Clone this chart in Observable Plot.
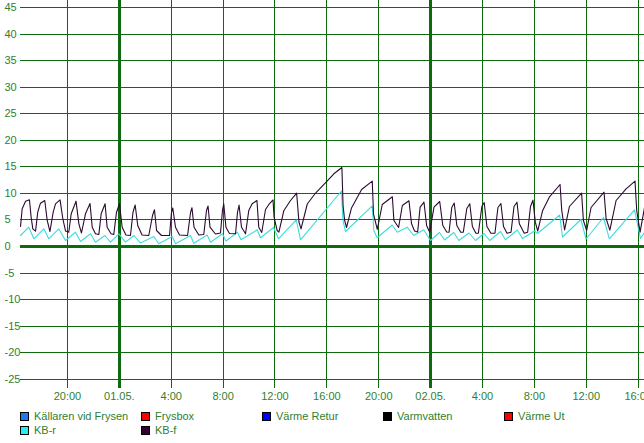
<!DOCTYPE html>
<html><head><meta charset="utf-8">
<script src="https://cdn.jsdelivr.net/npm/d3@7"></script>
<script src="https://cdn.jsdelivr.net/npm/@observablehq/plot@0.6"></script>
<style>
html,body{margin:0;background:#fff;font-family:"Liberation Sans",Arial,sans-serif;overflow:hidden;}
#chart{width:644px;overflow:hidden;}
#chart svg{display:block;}
#legend{position:relative;width:644px;height:38px;font-size:11px;color:#2f7f2f;}
.item{position:absolute;display:flex;align-items:center;height:14px;white-space:nowrap;}
.sw{width:7px;height:7px;border:1px solid #000;margin-right:5px;}
</style></head><body><div id="chart"></div><div id="legend"></div>
<script>
// hours since 30.04. 00:00
const kbfHours = [16.38,16.51,16.77,17.07,17.20,17.33,17.54,17.71,17.92,18.25,
18.44,18.65,18.90,19.08,19.43,19.64,19.85,20.10,20.29,20.66,
20.88,21.08,21.39,21.74,21.91,22.16,22.42,22.60,22.90,23.06,
23.36,23.57,23.78,24.01,24.22,24.51,24.86,25.05,25.22,25.42,
25.75,26.27,26.56,26.71,26.87,27.25,27.87,28.02,28.12,28.33,
28.64,29.26,29.49,29.60,29.76,30.13,30.51,30.72,30.84,30.99,
31.41,31.80,31.95,32.05,32.22,32.49,32.96,33.11,33.23,33.42,
33.73,33.98,34.24,34.61,34.75,34.98,35.27,35.53,35.85,35.93,
36.17,36.30,36.69,37.20,37.67,37.85,38.01,38.49,39.13,39.98,
40.54,41.16,41.25,41.37,41.52,41.90,42.68,43.50,43.60,43.89,
44.27,45.05,45.17,45.53,45.82,46.33,46.53,46.76,47.00,47.19,
47.49,47.69,47.93,48.26,48.70,48.94,49.24,49.42,49.63,49.82,
50.02,50.32,50.52,50.79,51.02,51.22,51.49,51.68,51.95,52.13,
52.34,52.65,52.96,53.19,53.42,53.62,53.89,54.20,54.43,54.66,
54.84,55.22,55.48,55.70,55.89,56.07,56.26,56.64,57.15,57.98,
58.11,58.33,58.70,59.64,59.78,60.03,60.37,61.37,61.53,61.82,
62.30,63.07,63.76,63.89,64.15,64.49];
const kbfValues = [3.77,7.10,8.53,8.79,5.52,3.33,2.88,6.46,8.15,8.66,
4.90,2.82,6.46,8.04,8.79,5.27,2.92,2.69,6.16,8.53,
4.27,2.54,6.16,8.10,3.63,2.39,2.26,6.16,8.04,3.63,
2.39,2.26,6.40,8.04,3.63,2.17,2.07,6.40,7.81,3.95,
2.17,2.07,5.84,6.91,3.01,2.07,2.07,6.40,7.25,3.63,
2.17,2.07,6.40,7.29,3.63,2.17,2.26,6.78,7.63,3.63,
2.35,2.54,6.78,8.04,3.63,2.45,2.39,6.40,7.81,3.63,
2.39,6.78,8.04,8.66,3.63,2.64,6.97,7.91,8.76,5.52,
3.01,2.69,6.78,8.66,10.04,4.61,3.30,8.00,10.07,12.20,
13.69,14.88,7.72,4.90,3.58,7.25,10.73,12.30,6.03,3.24,
7.91,9.36,4.90,3.58,7.72,8.61,4.27,2.92,2.73,7.40,
8.34,3.95,2.69,7.40,8.47,3.95,2.73,2.69,7.34,8.19,
3.95,2.69,2.69,7.16,8.04,3.77,2.50,2.50,7.53,8.29,
3.77,2.50,2.50,7.34,8.10,3.77,2.50,2.69,7.53,8.34,
4.27,2.50,2.69,7.53,8.72,4.58,2.92,6.78,9.28,11.67,
6.78,3.11,7.53,10.04,4.90,3.01,7.34,10.22,5.27,3.07,
8.66,10.86,12.30,6.78,2.69,7.34];
const kbrHours = [16.38,17.02,17.41,18.18,18.56,19.33,19.85,20.62,21.01,21.78,
22.16,22.88,23.32,23.96,24.48,25.12,25.63,26.66,27.04,28.08,
28.33,29.49,29.74,30.77,31.03,31.95,32.22,33.11,33.38,34.63,
34.88,35.89,36.27,37.64,37.97,41.13,41.24,41.44,43.50,43.62,
43.88,45.04,45.42,46.19,46.70,47.47,47.99,48.68,49.07,49.79,
50.17,50.96,51.46,52.10,52.56,53.39,53.77,54.68,55.08,56.01,
56.24,57.95,58.17,59.59,59.98,61.33,61.78,63.72,64.18,64.49];
const kbrValues = [2.07,3.63,1.45,3.33,1.45,3.33,1.13,2.69,0.94,2.39,
0.81,2.07,0.81,2.39,0.81,2.07,0.66,1.88,0.51,1.88,
0.51,2.07,0.62,2.17,0.81,2.39,1.04,2.69,1.26,3.14,
1.64,3.58,1.45,5.03,1.26,10.45,4.90,2.82,7.63,3.01,
1.64,4.05,2.69,3.63,2.07,3.14,1.13,2.64,1.22,2.64,
1.13,2.54,1.13,2.45,1.13,2.82,1.26,3.11,1.51,2.92,
2.45,5.93,1.79,5.08,1.41,5.46,1.45,6.91,1.51,2.64];

const xTickHours = [20,24,28,32,36,40,44,48,52,56,60,64];
const xTickLabels = ["20:00","01.05.","4:00","8:00","12:00","16:00","20:00","02.05.","4:00","8:00","12:00","16:00"];
const dayHours = [24,48];
const yTicks = [-25,-20,-15,-10,-5,0,5,10,15,20,25,30,35,40,45];
const xDomainHours = [16.38,64.49];
const yDomain = [-26.74,46.32];

const legendNames = ["Källaren vid Frysen","Frysbox","Värme Retur","Varmvatten","Värme Ut","KB-r","KB-f"];
const legendColors = ["#1e78ee","#ff0000","#0000ff","#000000","#ff0000","#22f0f0","#330033"];

const base = new Date(2024,3,30,0,0,0).getTime();
const toDate = h => new Date(base + h*3600000);

const n1 = Math.min(kbfHours.length,kbfValues.length);
const kbf = d3.range(n1).map(i => ({t: toDate(kbfHours[i]), v: kbfValues[i]}));
const n2 = Math.min(kbrHours.length,kbrValues.length);
const kbr = d3.range(n2).map(i => ({t: toDate(kbrHours[i]), v: kbrValues[i]}));
const xTickDates = xTickHours.map(toDate);

const grid = "#0e6a0e";
const textColor = "#2f7f2f";

const chart = Plot.plot({
  width: 644, height: 405,
  marginLeft: 20, marginRight: 0, marginTop: 0, marginBottom: 17,
  x: {type: "time", domain: xDomainHours.map(toDate), label: null},
  y: {domain: yDomain, label: null},
  style: {fontFamily: '"Liberation Sans", Arial, sans-serif', fontSize: "11px", background: "white", color: textColor, overflow: "hidden"},
  marks: [
    Plot.ruleY(yTicks, {stroke: grid, strokeWidth: 1, shapeRendering: "crispEdges"}),
    Plot.ruleY([0], {stroke: grid, strokeWidth: 3, shapeRendering: "crispEdges"}),
    Plot.ruleX(xTickDates, {stroke: grid, strokeWidth: 1, shapeRendering: "crispEdges"}),
    Plot.ruleX(dayHours.map(toDate), {stroke: grid, strokeWidth: 3, shapeRendering: "crispEdges"}),
    Plot.line(kbr, {x: "t", y: "v", stroke: "#3ddcdc", strokeWidth: 1.1}),
    Plot.line(kbf, {x: "t", y: "v", stroke: "#2a0a30", strokeWidth: 1.1}),
    Plot.axisX({ticks: xTickDates, tickSize: 0, tickPadding: 4, fill: textColor, label: null,
      tickFormat: d => xTickLabels[xTickDates.findIndex(t => +t === +d)]}),
    Plot.axisY({ticks: yTicks, tickSize: 0, tickPadding: 16, textAnchor: "start", fill: textColor, label: null, tickFormat: d => String(d)})
  ]
});
document.getElementById("chart").appendChild(chart);

const legend = document.getElementById("legend");
legendNames.forEach((name, i) => {
  const col = i % 5, row = Math.floor(i / 5);
  const it = document.createElement("div");
  it.className = "item";
  it.style.left = (20 + col * 121) + "px";
  it.style.top = (4 + row * 14) + "px";
  const sw = document.createElement("span");
  sw.className = "sw";
  sw.style.background = legendColors[i];
  const tx = document.createElement("span");
  tx.textContent = name;
  it.appendChild(sw); it.appendChild(tx);
  legend.appendChild(it);
});
</script></body></html>
